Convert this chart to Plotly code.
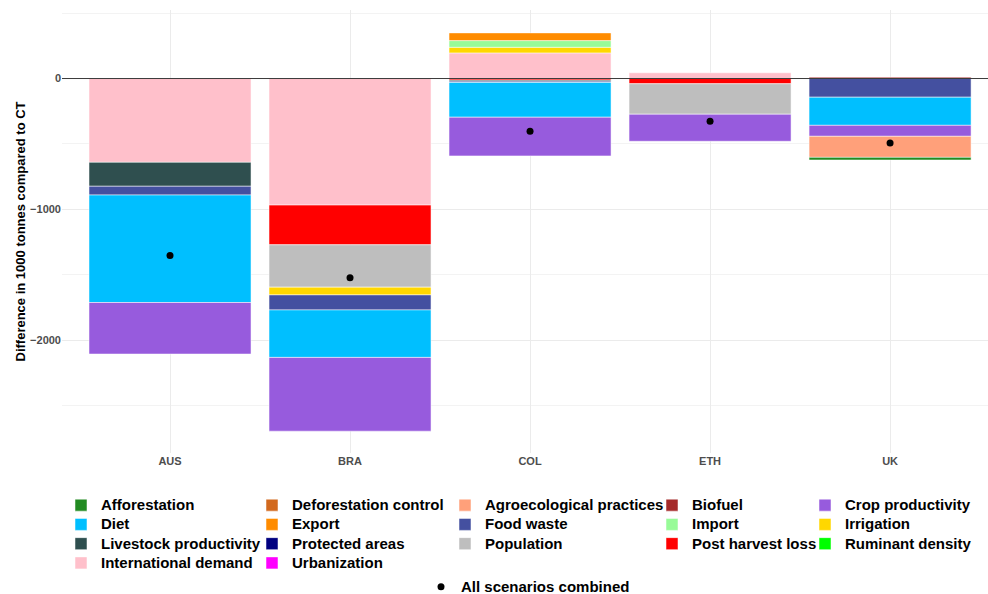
import plotly.graph_objects as go

# Countries on the x axis
countries = ["AUS", "BRA", "COL", "ETH", "UK"]

# Difference in 1000 tonnes compared to CT, per scenario and country
afforestation = [0, 0, 0, 0, -20]
deforestation_control = [0, 0, 0, 0, 0]
agroecological_practices = [0, 0, 0, 0, -161]
biofuel = [0, 0, 0, 0, 10]
crop_productivity = [-394, -564, -296, -207, -84]
diet = [-822, -363, -266, 0, -215]
export = [0, 0, 59, 0, 0]
food_waste = [-67, -115, -10, 0, -143]
import_ = [0, 0, 51, 0, 0]
irrigation = [0, -59, 43, 0, 0]
livestock_productivity = [-183, 0, -8, 0, 0]
protected_areas = [0, 0, 0, 0, 0]
population = [0, -324, 0, -233, 0]
post_harvest_loss = [0, -304, -12, -40, 0]
ruminant_density = [0, 0, 0, 0, 0]
international_demand = [-641, -968, 196, 44, 0]
urbanization = [0, 0, 0, 0, 0]

# Combined scenario
all_scenarios_combined = [-1354, -1523, -404, -327, -493]

# Scenario levels: (name, values, colour, legend column)
scenarios = [
    ("Afforestation", afforestation, "#228B22", "legend"),
    ("Deforestation control", deforestation_control, "#D2691E", "legend2"),
    ("Agroecological practices", agroecological_practices, "#FFA07A", "legend3"),
    ("Biofuel", biofuel, "#A52A2A", "legend4"),
    ("Crop productivity", crop_productivity, "#975BDD", "legend5"),
    ("Diet", diet, "#00BFFF", "legend"),
    ("Export", export, "#FF8C00", "legend2"),
    ("Food waste", food_waste, "#4450A0", "legend3"),
    ("Import", import_, "#98FB98", "legend4"),
    ("Irrigation", irrigation, "#FFD700", "legend5"),
    ("Livestock productivity", livestock_productivity, "#2F4F4F", "legend"),
    ("Protected areas", protected_areas, "#000080", "legend2"),
    ("Population", population, "#BEBEBE", "legend3"),
    ("Post harvest loss", post_harvest_loss, "#FF0000", "legend4"),
    ("Ruminant density", ruminant_density, "#00FF00", "legend5"),
    ("International demand", international_demand, "#FFC0CB", "legend"),
    ("Urbanization", urbanization, "#FF00FF", "legend2"),
]

FONT = "Liberation Sans, Arial, sans-serif"
W, H = 988, 594
PLOT_L, PLOT_W = 62, 926

fig = go.Figure()

# Later levels sit nearest the zero line, so add them first
for rank, (name, vals, colour, leg) in reversed(list(enumerate(scenarios))):
    fig.add_trace(go.Bar(
        x=countries,
        y=[v if v != 0 else None for v in vals],
        name=f'<span style="font-size:15px">{name}</span>',
        marker=dict(color=colour, line=dict(color="rgba(255,255,255,0.85)", width=0.6)),
        legend=leg,
        legendrank=rank + 1,
        showlegend=True,
    ))

fig.add_trace(go.Scatter(
    x=countries,
    y=all_scenarios_combined,
    mode="markers",
    marker=dict(color="black", size=7),
    name='<span style="font-size:15px">All scenarios combined</span>',
    legend="legend6",
))

# Zero reference line
fig.add_shape(type="line", xref="paper", x0=0, x1=1, yref="y", y0=0, y1=0,
              line=dict(color="#3a3a3a", width=1), layer="above")

# Y axis title
fig.add_annotation(
    text="Difference in 1000 tonnes compared to CT",
    xref="paper", yref="paper", x=(20 - PLOT_L) / PLOT_W, y=0.5,
    xanchor="center", yanchor="middle", textangle=-90, showarrow=False,
    font=dict(family=FONT, size=13, color="black", weight="bold"),
)

legend_font = dict(family=FONT, size=12.5, color="black", weight="bold")


def legend_box(left_px, top_px):
    # legend columns placed in page coordinates
    return dict(x=left_px / W, y=(H - top_px) / H, xref="container", yref="container",
                xanchor="left", yanchor="top", orientation="v",
                font=legend_font, bgcolor="rgba(0,0,0,0)", traceorder="normal",
                tracegroupgap=0, itemwidth=30)


fig.update_layout(
    width=W,
    height=H,
    margin=dict(l=PLOT_L, r=0, t=10, b=141, autoexpand=False),
    paper_bgcolor="white",
    plot_bgcolor="white",
    barmode="relative",
    bargap=0.1,
    font=dict(family=FONT),
    legend=legend_box(61, 490.5),
    legend2=legend_box(252, 490.5),
    legend3=legend_box(445, 490.5),
    legend4=legend_box(652, 490.5),
    legend5=legend_box(805, 490.5),
    legend6=legend_box(421, 572),
    xaxis=dict(
        range=[-0.6, 4.544],
        showgrid=True,
        gridcolor="#EBEBEB",
        gridwidth=1,
        zeroline=False,
        showline=False,
        ticks="",
        tickfont=dict(family=FONT, size=11, color="#4D4D4D", weight="bold"),
        automargin=False,
    ),
    yaxis=dict(
        range=[-2864, 524],
        tick0=0,
        dtick=1000,
        showgrid=True,
        gridcolor="#EBEBEB",
        gridwidth=1,
        zeroline=False,
        showline=False,
        ticks="",
        tickfont=dict(family=FONT, size=11, color="#4D4D4D", weight="bold"),
        minor=dict(dtick=500, tick0=0, showgrid=True, gridcolor="#F3F3F3", gridwidth=0.6),
        automargin=False,
    ),
)

fig.write_html("out.html")
